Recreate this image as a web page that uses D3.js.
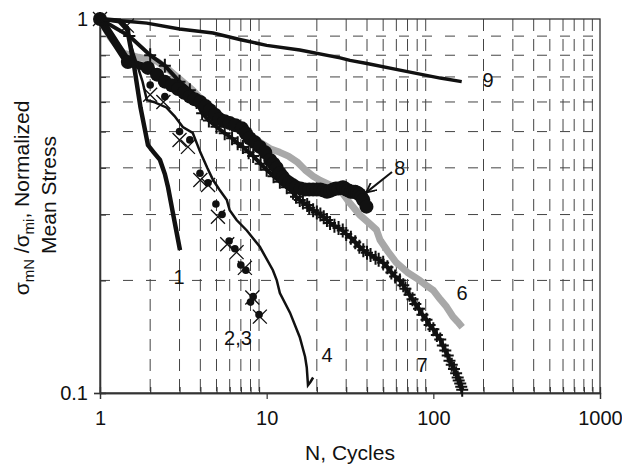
<!DOCTYPE html>
<html>
<head>
<meta charset="utf-8">
<script src="https://cdn.jsdelivr.net/npm/d3@7"></script>
<style>
  body { margin: 0; background: #fff; }
  svg text { font-family: "Liberation Sans", Arial, sans-serif; fill: #111; }
</style>
</head>
<body>
<svg id="chart" width="622" height="469"></svg>
<script>
// series: [N, normalized mean stress]
var series1 = [[1,1],[1.3,0.99],[1.45,0.95],[1.6,0.75],[1.75,0.58],[1.94,0.46],[2.1,0.44],[2.29,0.42],
    [2.45,0.385],[2.56,0.355],[2.75,0.3],[2.9,0.265],[3.02,0.241]];
var series2 = [[1,1],[2.0,0.666],[2.45,0.62],[3.0,0.5],[3.46,0.475],[3.98,0.387],[4.45,0.365],[4.96,0.32],
    [5.4,0.30],[5.95,0.255],[6.45,0.243],[7.0,0.22],[7.5,0.213],[8.0,0.175],[8.3,0.181],[9.0,0.162]];
var series3 = [[1,1],[1.45,0.96],[2.0,0.627],[2.4,0.60],[3.0,0.475],[3.37,0.455],[4.0,0.371],[4.45,0.36],
    [5.1,0.296],[5.8,0.25],[6.6,0.238],[7.4,0.216],[8.2,0.18],[9.1,0.16]];
var series4 = [[1,1],[1.3,0.98],[1.45,0.93],[1.6,0.8],[1.8,0.68],[1.91,0.607],[2.1,0.6],[2.5,0.58],[2.8,0.55],
    [3.14,0.514],[3.6,0.496],[4.0,0.44],[4.4,0.4],[4.77,0.371],[5.2,0.35],[5.77,0.328],[6.0,0.308],[6.6,0.29],
    [7.6,0.272],[9.1,0.246],[10.9,0.213],[11.5,0.2],[12.0,0.185],[13.8,0.164],[15.8,0.141],[17.0,0.125],
    [17.4,0.117],[17.7,0.105],[18.3,0.107],[19,0.11]];
var series6 = [[1,1],[1.15,0.895],[1.38,0.81],[1.7,0.79],[2.2,0.77],[2.6,0.73],[2.9,0.70],[3.6,0.645],[4.2,0.6],
    [5,0.56],[6,0.53],[7,0.51],[8,0.49],[9,0.47],[10.5,0.45],[12,0.44],[13.5,0.43],[15.2,0.415],[17,0.395],
    [19,0.38],[21,0.37],[24,0.36],[27.5,0.35],[31,0.325],[36,0.3],[41,0.285],[45.6,0.273],[47.8,0.257],
    [53,0.24],[60,0.223],[70,0.21],[83,0.2],[92,0.193],[100,0.188],[110,0.178],[120,0.17],[131,0.16],
    [140,0.155],[149,0.15]];
var series7 = [[1,1],[1.5,0.9],[2,0.8],[2.45,0.75],[3.0,0.68],[3.46,0.645],[3.8,0.6],[4.1,0.56],[4.5,0.535],
    [5,0.515],[5.6,0.495],[6.2,0.48],[6.7,0.465],[7.2,0.455],[7.8,0.44],[8.3,0.43],[9.2,0.41],[10,0.395],
    [11,0.38],[12,0.367],[13.2,0.355],[14.4,0.343],[15,0.335],[15.8,0.328],[16.5,0.323],[17.5,0.318],
    [18,0.313],[19,0.308],[20,0.304],[21,0.30],[22,0.295],[23,0.29],[24,0.285],[25.5,0.28],[27,0.276],
    [28.6,0.272],[30,0.266],[32,0.26],[34,0.253],[36,0.246],[38,0.241],[40,0.237],[42,0.234],[45,0.23],
    [47,0.227],[50,0.223],[53,0.217],[56,0.21],[59,0.205],[63,0.2],[66,0.194],[68,0.19],[72,0.183],
    [75,0.178],[78,0.173],[82,0.168],[86,0.162],[91,0.157],[95,0.152],[100,0.148],[105,0.143],[110,0.139],
    [114,0.134],[118,0.13],[122,0.126],[125,0.122],[129,0.119],[133,0.116],[137,0.113],[140,0.11],
    [142,0.108],[145,0.106],[147,0.104],[149,0.102]];
var series8 = [[1,1],[1.47,0.767],[1.94,0.74],[2.2,0.71],[2.45,0.68],[2.7,0.665],[2.94,0.65],[3.2,0.635],
    [3.46,0.62],[3.7,0.61],[4.0,0.60],[4.3,0.585],[4.57,0.57],[4.9,0.555],[5.2,0.54],[5.6,0.533],[6.0,0.527],
    [6.5,0.52],[7.1,0.51],[7.5,0.495],[7.9,0.48],[8.5,0.468],[9.1,0.455],[9.8,0.44],[10.5,0.42],[11,0.41],
    [11.5,0.4],[12,0.387],[12.5,0.378],[13,0.37],[13.6,0.365],[14.3,0.36],[15,0.355],[16,0.352],[17,0.35],
    [18,0.35],[19,0.35],[20,0.35],[21,0.35],[22,0.348],[23,0.345],[24,0.347],[25,0.35],[26,0.352],[27,0.352],
    [28.6,0.355],[29,0.354],[30,0.35],[31,0.348],[32,0.345],[33,0.345],[34,0.345],[35,0.343],[36,0.34],
    [37,0.335],[38,0.328],[39.7,0.315]];
var series9 = [[1,1],[1.5,0.985],[1.91,0.975],[3,0.94],[4.77,0.917],[7,0.88],[10,0.85],[15.8,0.826],
    [27.6,0.787],[31.6,0.775],[40,0.76],[63,0.73],[110,0.695],[148,0.68]];

var curveLabels = [
    { text: "9", n: 213, s: 0.687 },
    { text: "8", n: 63, s: 0.40 },
    { text: "6", n: 148.6, s: 0.185 },
    { text: "7", n: 85.5, s: 0.119 },
    { text: "4", n: 23, s: 0.126 },
    { text: "2,3", n: 6.73, s: 0.14 },
    { text: "1", n: 2.98, s: 0.204 }
];
var arrow8 = [[56.5, 0.39], [40, 0.345]];

var xMajor = [1, 10, 100, 1000];
var xMinor = [2,3,4,5,6,7,8,9,20,30,40,50,60,70,80,90,200,300,400,500,600,700,800,900];
var yMajor = [0.1, 1];
var yMinor = [0.2,0.3,0.4,0.5,0.6,0.7,0.8,0.9];

var svg = d3.select("#chart");
var pLeft = 100, pRight = 600, pTop = 19, pBottom = 393;

var x = d3.scaleLog().domain([1, 1000]).range([pLeft, pRight]);
var y = d3.scaleLog().domain([0.1, 1]).range([pBottom, pTop]);

// dashed grid
svg.append("g").selectAll("line").data(xMinor).enter().append("line")
    .attr("x1", d => x(d)).attr("x2", d => x(d))
    .attr("y1", pTop).attr("y2", pBottom)
    .attr("stroke", "#444").attr("stroke-width", 1).attr("stroke-dasharray", "12,8");
svg.append("g").selectAll("line").data(yMinor).enter().append("line")
    .attr("y1", d => y(d)).attr("y2", d => y(d))
    .attr("x1", pLeft).attr("x2", pRight)
    .attr("stroke", "#444").attr("stroke-width", 1).attr("stroke-dasharray", "10,13");

// frame
svg.append("rect")
    .attr("x", pLeft).attr("y", pTop)
    .attr("width", pRight - pLeft).attr("height", pBottom - pTop)
    .attr("fill", "none").attr("stroke", "#333").attr("stroke-width", 1.3);

// axes
var fmt = d => String(d);
svg.append("g").attr("transform", "translate(0," + pBottom + ")")
    .call(d3.axisBottom(x).tickValues(xMajor).tickFormat(fmt).tickSize(6).tickPadding(12));
svg.append("g").attr("transform", "translate(0," + pBottom + ")")
    .call(d3.axisBottom(x).tickValues(xMinor).tickFormat("").tickSize(-6));
svg.append("g").attr("transform", "translate(" + pLeft + ",0)")
    .call(d3.axisLeft(y).tickValues(yMajor).tickFormat(fmt).tickSize(6).tickPadding(6));
svg.append("g").attr("transform", "translate(" + pLeft + ",0)")
    .call(d3.axisLeft(y).tickValues(yMinor).tickFormat("").tickSize(-6));
svg.selectAll(".domain").attr("stroke", "#333").attr("stroke-width", 1.3);
svg.selectAll(".tick line").attr("stroke", "#333").attr("stroke-width", 1.2);
svg.selectAll(".tick text").attr("font-size", 20).attr("font-family", "Liberation Sans, Arial, sans-serif").attr("fill", "#111");

// axis titles
svg.append("text").attr("x", (pLeft + pRight) / 2).attr("y", 460)
    .attr("text-anchor", "middle").attr("font-size", 21).text("N, Cycles");

var yt = svg.append("text").attr("transform", "translate(29,198) rotate(-90)")
    .attr("text-anchor", "middle").attr("font-size", 21);
yt.append("tspan").text("σ");
yt.append("tspan").attr("font-size", 15).attr("dy", 5).text("mN");
yt.append("tspan").attr("dy", -5).text(" /σ");
yt.append("tspan").attr("font-size", 15).attr("dy", 5).text("mi");
yt.append("tspan").attr("dy", -5).text(", Normalized");
svg.append("text").attr("transform", "translate(56,195) rotate(-90)")
    .attr("text-anchor", "middle").attr("font-size", 21).text("Mean Stress");

var line = d3.line().x(d => x(d[0])).y(d => y(d[1]));
var plot = svg.append("g");

// 9
plot.append("path").datum(series9).attr("d", line)
    .attr("fill", "none").attr("stroke", "#111").attr("stroke-width", 3.5);
// 6 (gray)
plot.append("path").datum(series6).attr("d", line)
    .attr("fill", "none").attr("stroke", "#a8a8a8").attr("stroke-width", 7).attr("stroke-linejoin", "round");
// 7 (+ markers)
plot.append("path").datum(series7).attr("d", line)
    .attr("fill", "none").attr("stroke", "#111").attr("stroke-width", 4);
plot.append("g").selectAll("path").data(series7).enter().append("path")
    .attr("transform", d => "translate(" + x(d[0]) + "," + y(d[1]) + ")")
    .attr("d", "M-6,0H6M0,-7V7")
    .attr("stroke", "#111").attr("stroke-width", 2);
// 8 (big dots)
plot.append("path").datum(series8).attr("d", line)
    .attr("fill", "none").attr("stroke", "#111").attr("stroke-width", 8);
plot.append("g").selectAll("circle").data(series8).enter().append("circle")
    .attr("cx", d => x(d[0])).attr("cy", d => y(d[1])).attr("r", 7)
    .attr("fill", "#111");
// 1
plot.append("path").datum(series1).attr("d", line)
    .attr("fill", "none").attr("stroke", "#111").attr("stroke-width", 4.5);
// 4
plot.append("path").datum(series4).attr("d", line)
    .attr("fill", "none").attr("stroke", "#111").attr("stroke-width", 2.5);
// 2 (small dots)
plot.append("g").selectAll("circle").data(series2).enter().append("circle")
    .attr("cx", d => x(d[0])).attr("cy", d => y(d[1])).attr("r", 3.8)
    .attr("fill", "#111");
// 3 (x markers)
plot.append("g").selectAll("path").data(series3).enter().append("path")
    .attr("transform", d => "translate(" + x(d[0]) + "," + y(d[1]) + ")")
    .attr("d", "M-7,-7L7,7M-7,7L7,-7")
    .attr("stroke", "#111").attr("stroke-width", 1.3);

// curve numbers
svg.append("g").selectAll("text").data(curveLabels).enter().append("text")
    .attr("x", d => x(d.n)).attr("y", d => y(d.s) + 7)
    .attr("text-anchor", "middle").attr("font-size", 20)
    .text(d => d.text);

// arrow to curve 8
svg.append("defs").append("marker")
    .attr("id", "ah").attr("viewBox", "0 0 10 10").attr("refX", 9).attr("refY", 5)
    .attr("markerWidth", 10).attr("markerHeight", 10).attr("markerUnits", "userSpaceOnUse")
    .attr("orient", "auto")
    .append("path").attr("d", "M0,0L10,5L0,10").attr("fill", "none").attr("stroke", "#111").attr("stroke-width", 1.8);
svg.append("line")
    .attr("x1", x(arrow8[0][0])).attr("y1", y(arrow8[0][1]))
    .attr("x2", x(arrow8[1][0])).attr("y2", y(arrow8[1][1]))
    .attr("stroke", "#111").attr("stroke-width", 2).attr("marker-end", "url(#ah)");
</script>
</body>
</html>
